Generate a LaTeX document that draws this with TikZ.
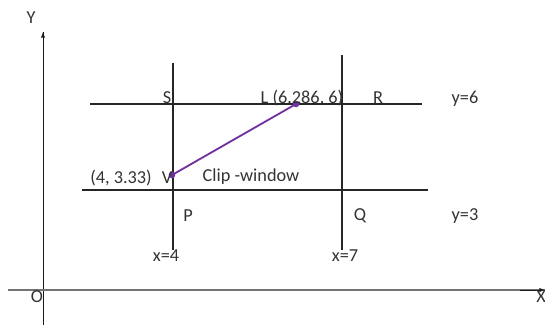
\documentclass[tikz,border=0pt]{standalone}
\usepackage{fontspec}
\setmainfont{Carlito}
\definecolor{clipline}{HTML}{7030A0}
\begin{document}
\begin{tikzpicture}[x=0.025cm, y=-0.025cm,
    every node/.style={font=\fontsize{13}{15}\selectfont, text=black!80, inner sep=1pt},
    edge/.style={black!85, line width=1.1pt},
    axis/.style={black!55, line width=1.1pt}]
    \useasboundingbox (0,0) rectangle (545,325);
    % Axes
    \coordinate (o) at (43,290);
    \coordinate (ytop) at (43,32);
    \coordinate (ybot) at (43,325);
    \coordinate (xleft) at (8,290);
    \coordinate (xright) at (545,290);
    \draw[black!90] (ybot) -- (ytop);
    \draw[-latex, black!90] (43,60) -- (ytop);
    \draw[axis] (xleft) -- (xright);
    \draw[-latex, black!90] (520,290) -- (xright);
        \node at (31,18) {Y};
        \node at (37,297) {O};
        \node at (541,297) {X};
    % Window edges
    \coordinate (l1) at (173,63);
    \coordinate (l2) at (173,250);
    \coordinate (r1) at (342,55);
    \coordinate (r2) at (342,250);
    \coordinate (t1) at (90,104);
    \coordinate (t2) at (422,104);
    \coordinate (b1) at (82,190);
    \coordinate (b2) at (428,190);
    \draw[edge] (l1) -- (l2);
    \draw[edge] (r1) -- (r2);
    \draw[edge] (t1) -- (t2);
    \draw[edge] (b1) -- (b2);
    % Clipped line
    \coordinate (v) at (172,175);
    \coordinate (lp) at (296,104);
    \draw[clipline, line width=1.3pt] (v) -- (lp);
    \fill[clipline] (v) circle (3.3) (lp) circle (3.3);
    % Below nodes are the labels.
        \node at (167,98) {S};
        \node at (302,98) {L (6.286, 6)};
        \node at (378,98) {R};
        \node at (465,99) {y=6};
        \node at (121,178) {(4, 3.33)};
        \node at (167,178) {V};
        \node at (251,177) {Clip -window};
        \node at (188,216) {P};
        \node at (360,216) {Q};
        \node at (465,216) {y=3};
        \node at (166,256) {x=4};
        \node at (345,256) {x=7};
\end{tikzpicture}
\end{document}
